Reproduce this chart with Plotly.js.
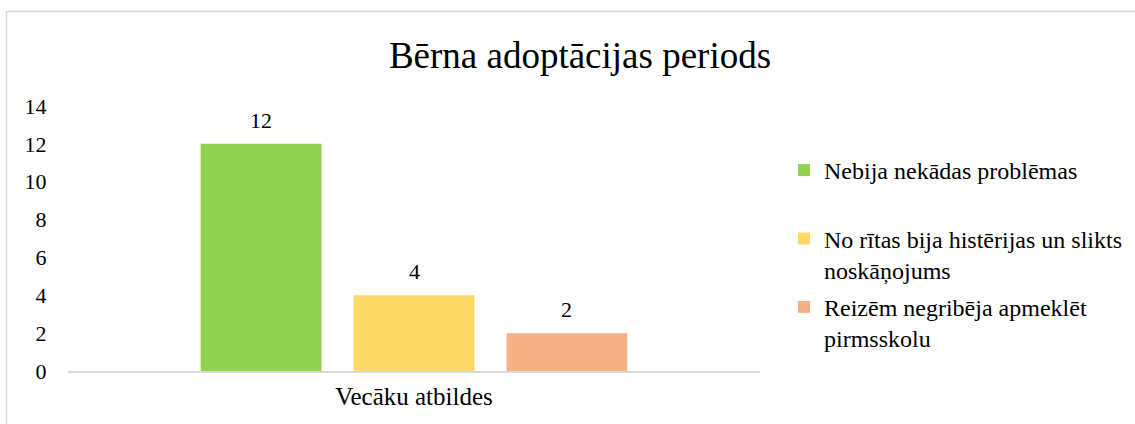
<!DOCTYPE html>
<html>
<head>
<meta charset="utf-8">
<script src="https://cdn.plot.ly/plotly-3.0.1.min.js"></script>
<style>
  html, body { margin: 0; padding: 0; background: #fff; }
  #chart { width: 1135px; height: 424px; }
</style>
</head>
<body>
<div id="chart"></div>
<script>
// ---- Data ----
const categories = ['Vecāku atbildes'];
const seriesNames = [
  'Nebija nekādas problēmas',
  'No rītas bija histērijas un slikts<br>noskāņojums',
  'Reizēm negribēja apmeklēt<br>pirmsskolu'
];
const seriesValues = [[12], [4], [2]];
const seriesColors = ['#92D050', '#FFD966', '#F4B183'];
const yTicks = [0, 2, 4, 6, 8, 10, 12, 14];
const chartTitle = 'Bērna adoptācijas periods';

const FONT = '"Liberation Serif", serif';

const margin = { l: 68, r: 375, t: 106, b: 53, autoexpand: false };
const W = 1135, H = 424;
const bargap = 0.337, bargroupgap = 0.21;
const plotW = W - margin.l - margin.r;
const slot = plotW * (1 - bargap) / seriesNames.length;

const traces = seriesNames.map((name, i) => ({
  type: 'bar',
  name: (i === 0 ? name + '<br> ' : name),
  x: categories,
  y: seriesValues[i],
  marker: { color: seriesColors[i] },
  legendgroup: 'g' + i,
  hoverinfo: 'none'
}));

const annotations = [];
seriesValues.forEach((vals, i) => {
  vals.forEach((v, j) => {
    annotations.push({
      x: categories[j], y: v, xref: 'x', yref: 'y',
      text: String(v), showarrow: false,
      xanchor: 'center', yanchor: 'bottom',
      xshift: (i - (seriesNames.length - 1) / 2) * slot,
      yshift: 9,
      font: { family: FONT, size: 22, color: '#000' }
    });
  });
});

const layout = {
  width: W,
  height: H,
  margin: margin,
  paper_bgcolor: '#fff',
  plot_bgcolor: '#fff',
  font: { family: FONT, size: 22, color: '#000' },
  title: {
    text: chartTitle,
    font: { family: FONT, size: 37, color: '#000' },
    xref: 'container', yref: 'container',
    x: 580 / 1135, xanchor: 'center',
    y: 1 - 55 / 424, yanchor: 'middle'
  },
  barmode: 'group',
  bargap: bargap,
  bargroupgap: bargroupgap,
  xaxis: {
    type: 'category',
    showline: true,
    linecolor: '#d9d9d9',
    linewidth: 2,
    ticks: 'outside',
    ticklen: 2,
    tickcolor: 'rgba(0,0,0,0)',
    showgrid: false,
    zeroline: false,
    tickfont: { family: FONT, size: 25, color: '#000' }
  },
  yaxis: {
    range: [0, 14],
    tickvals: yTicks,
    ticktext: yTicks.map(String),
    showgrid: false,
    zeroline: false,
    showline: false,
    ticks: 'outside',
    ticklen: 16,
    tickcolor: 'rgba(0,0,0,0)',
    tickfont: { family: FONT, size: 22, color: '#000' }
  },
  legend: {
    x: (784 - 68) / 692,
    xanchor: 'left',
    y: (371 - 148) / 265,
    yanchor: 'top',
    valign: 'top',
    tracegroupgap: 3,
    font: { family: FONT, size: 24, color: '#000' },
    bgcolor: 'rgba(0,0,0,0)',
    borderwidth: 0
  },
  annotations: annotations,
  shapes: [{
    type: 'rect',
    xref: 'paper', yref: 'paper',
    x0: (6.5 - 68) / 692, x1: 2,
    y0: -2, y1: (371 - 11.5) / 265,
    line: { color: '#d9d9d9', width: 1.5 },
    fillcolor: 'rgba(0,0,0,0)',
    layer: 'below'
  }],
  showlegend: true
};

Plotly.newPlot('chart', traces, layout, { displayModeBar: false, staticPlot: true });
</script>
</body>
</html>
